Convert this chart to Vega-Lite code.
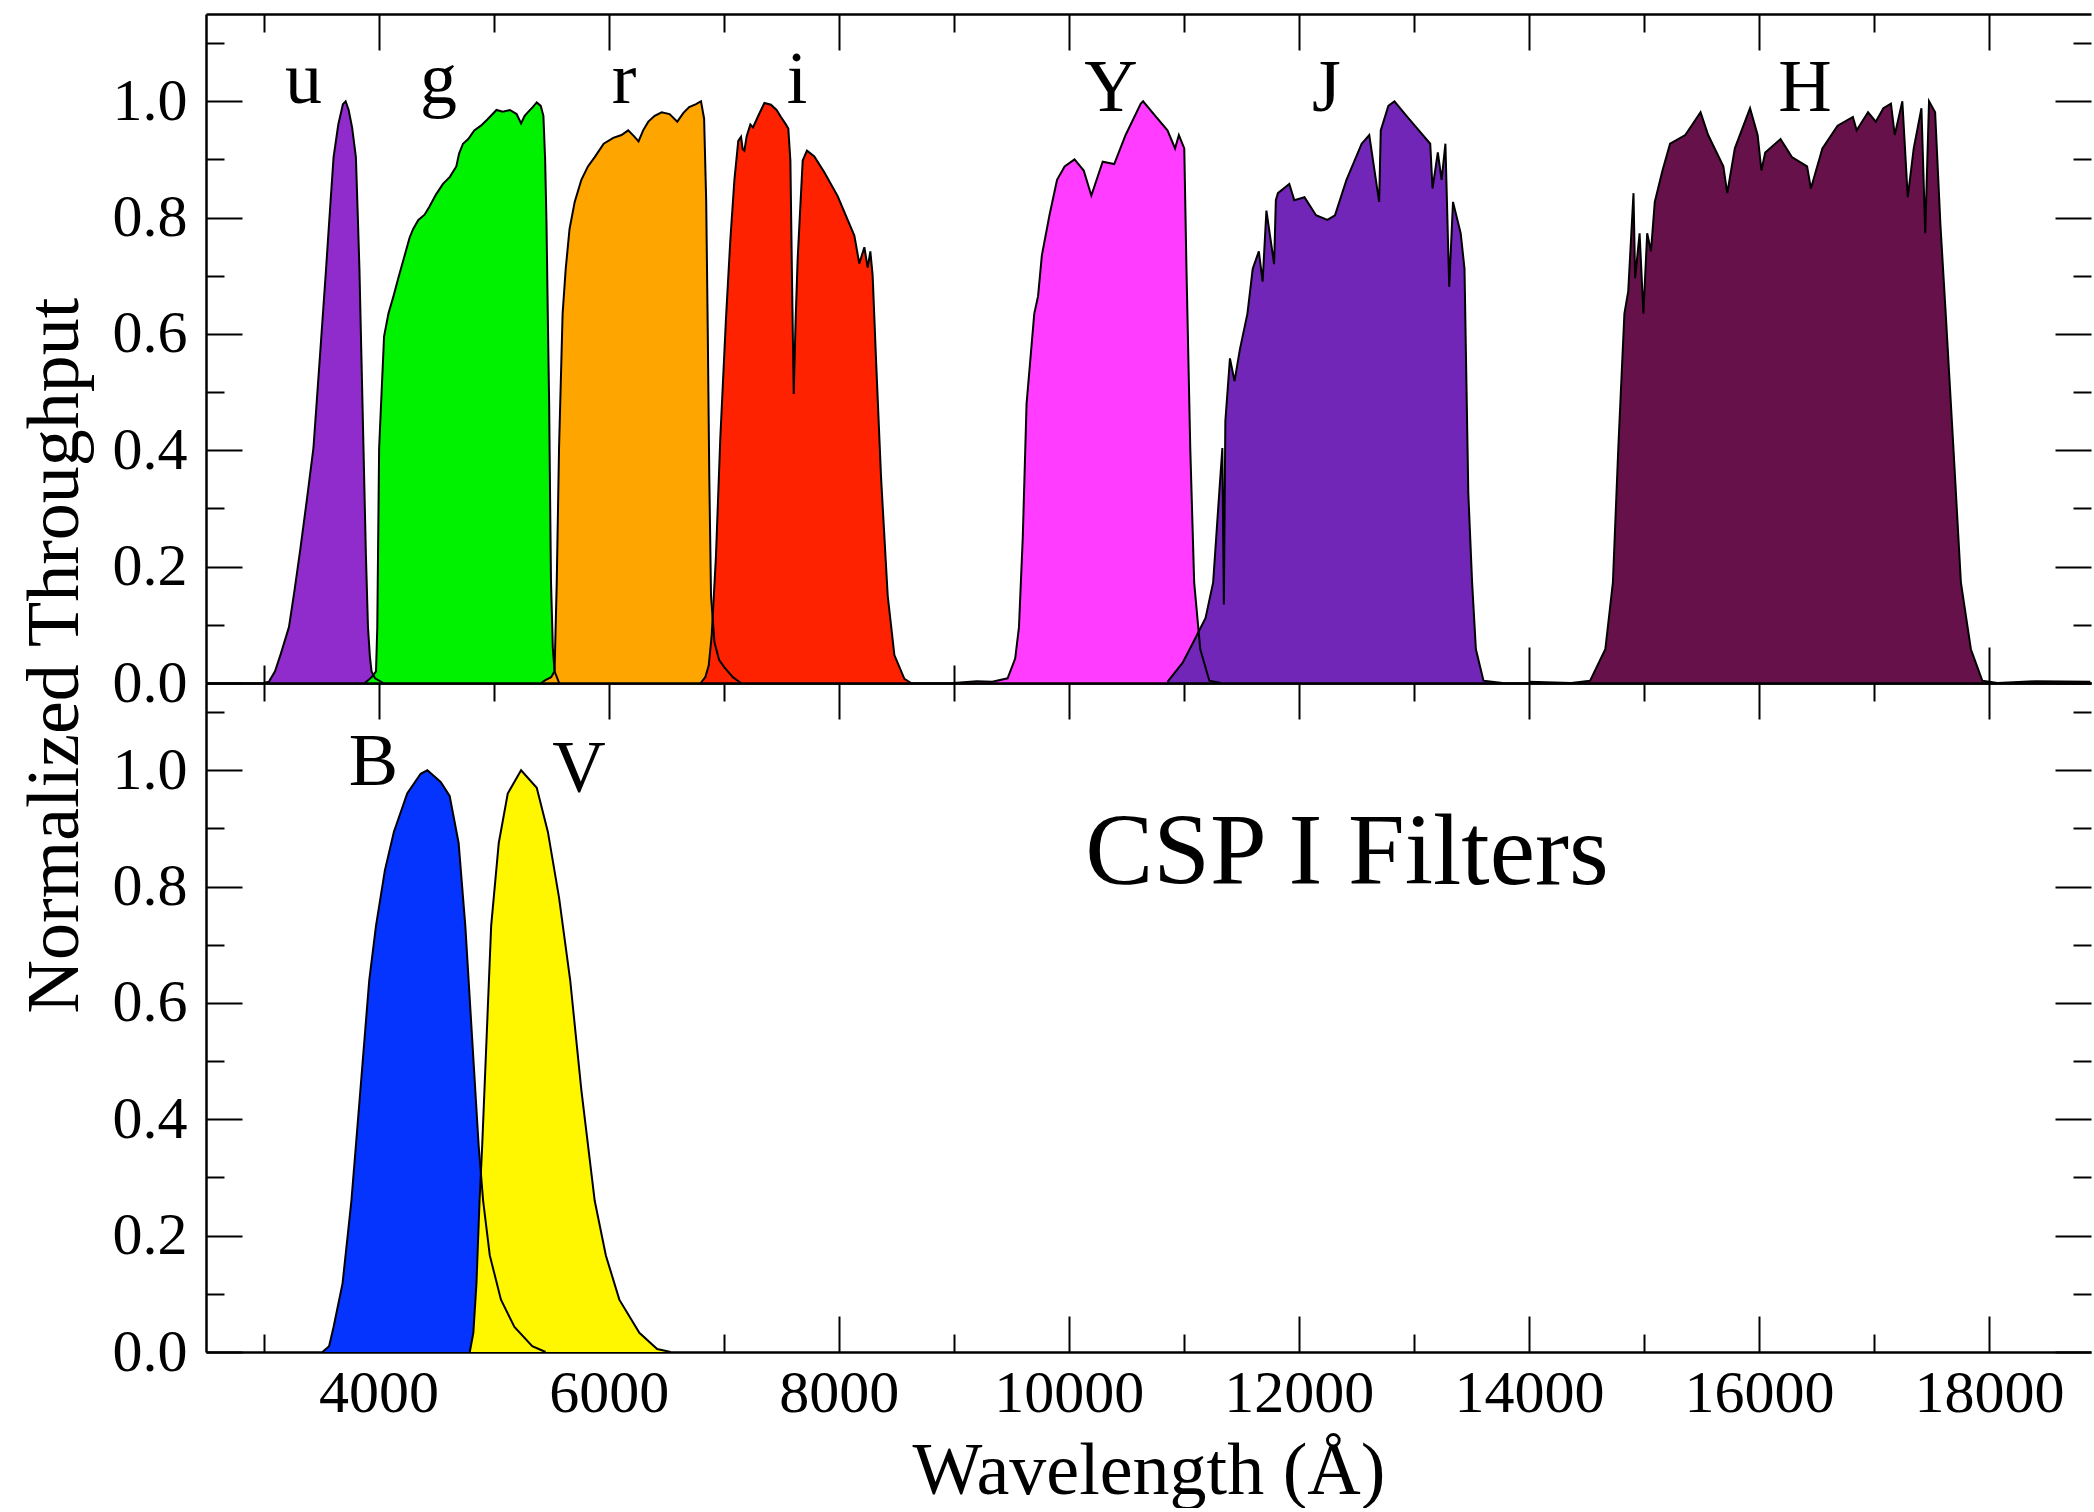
{
  "$schema": "https://vega.github.io/schema/vega-lite/v6.json",
  "autosize": {"type": "pad"},
  "padding": {"left": 18, "top": 13, "right": 0, "bottom": 0},
  "background": "white",
  "title": {"text": "Normalized Throughput", "orient": "left", "anchor": "middle", "frame": "bounds", "dx": 105, "fontSize": 74, "fontWeight": "normal", "font": "Liberation Serif", "color": "black", "offset": 18},
  "datasets": {
    "top": [
      {"f":"u","w":3000,"t":0},{"f":"u","w":3046,"t":0.002},{"f":"u","w":3100,"t":0.02},{"f":"u","w":3150,"t":0.05},{"f":"u","w":3221,"t":0.096},{"f":"u","w":3270,"t":0.16},{"f":"u","w":3320,"t":0.23},{"f":"u","w":3380,"t":0.32},{"f":"u","w":3434,"t":0.404},{"f":"u","w":3490,"t":0.56},{"f":"u","w":3543,"t":0.71},{"f":"u","w":3580,"t":0.82},{"f":"u","w":3609,"t":0.904},{"f":"u","w":3650,"t":0.96},{"f":"u","w":3690,"t":0.995},{"f":"u","w":3714,"t":1.0},{"f":"u","w":3740,"t":0.985},{"f":"u","w":3770,"t":0.955},{"f":"u","w":3803,"t":0.904},{"f":"u","w":3820,"t":0.8},{"f":"u","w":3834,"t":0.71},{"f":"u","w":3850,"t":0.57},{"f":"u","w":3869,"t":0.404},{"f":"u","w":3890,"t":0.22},{"f":"u","w":3908,"t":0.096},{"f":"u","w":3925,"t":0.045},{"f":"u","w":3939,"t":0.02},{"f":"u","w":3970,"t":0.008},{"f":"u","w":4040,"t":0},
      {"f":"g","w":3881,"t":0},{"f":"g","w":3940,"t":0.01},{"f":"g","w":3978,"t":0.02},{"f":"g","w":3989,"t":0.096},{"f":"g","w":4005,"t":0.404},{"f":"g","w":4048,"t":0.596},{"f":"g","w":4086,"t":0.635},{"f":"g","w":4130,"t":0.665},{"f":"g","w":4172,"t":0.696},{"f":"g","w":4220,"t":0.73},{"f":"g","w":4269,"t":0.765},{"f":"g","w":4300,"t":0.78},{"f":"g","w":4346,"t":0.796},{"f":"g","w":4400,"t":0.805},{"f":"g","w":4443,"t":0.819},{"f":"g","w":4500,"t":0.84},{"f":"g","w":4560,"t":0.858},{"f":"g","w":4620,"t":0.87},{"f":"g","w":4676,"t":0.888},{"f":"g","w":4700,"t":0.91},{"f":"g","w":4734,"t":0.927},{"f":"g","w":4780,"t":0.935},{"f":"g","w":4832,"t":0.95},{"f":"g","w":4890,"t":0.958},{"f":"g","w":4948,"t":0.969},{"f":"g","w":5025,"t":0.985},{"f":"g","w":5080,"t":0.982},{"f":"g","w":5142,"t":0.985},{"f":"g","w":5200,"t":0.978},{"f":"g","w":5239,"t":0.962},{"f":"g","w":5270,"t":0.975},{"f":"g","w":5297,"t":0.981},{"f":"g","w":5340,"t":0.99},{"f":"g","w":5375,"t":0.998},{"f":"g","w":5410,"t":0.992},{"f":"g","w":5433,"t":0.975},{"f":"g","w":5448,"t":0.9},{"f":"g","w":5460,"t":0.788},{"f":"g","w":5472,"t":0.62},{"f":"g","w":5483,"t":0.48},{"f":"g","w":5491,"t":0.32},{"f":"g","w":5499,"t":0.173},{"f":"g","w":5515,"t":0.06},{"f":"g","w":5530,"t":0.02},{"f":"g","w":5570,"t":0},
      {"f":"r","w":5414,"t":0},{"f":"r","w":5450,"t":0.005},{"f":"r","w":5500,"t":0.01},{"f":"r","w":5530,"t":0.02},{"f":"r","w":5549,"t":0.173},{"f":"r","w":5569,"t":0.404},{"f":"r","w":5600,"t":0.635},{"f":"r","w":5627,"t":0.712},{"f":"r","w":5660,"t":0.78},{"f":"r","w":5705,"t":0.827},{"f":"r","w":5763,"t":0.865},{"f":"r","w":5820,"t":0.888},{"f":"r","w":5879,"t":0.904},{"f":"r","w":5957,"t":0.927},{"f":"r","w":6040,"t":0.937},{"f":"r","w":6112,"t":0.942},{"f":"r","w":6170,"t":0.95},{"f":"r","w":6220,"t":0.94},{"f":"r","w":6260,"t":0.931},{"f":"r","w":6300,"t":0.95},{"f":"r","w":6345,"t":0.965},{"f":"r","w":6400,"t":0.975},{"f":"r","w":6461,"t":0.981},{"f":"r","w":6530,"t":0.978},{"f":"r","w":6597,"t":0.965},{"f":"r","w":6650,"t":0.98},{"f":"r","w":6700,"t":0.99},{"f":"r","w":6760,"t":0.995},{"f":"r","w":6803,"t":1.0},{"f":"r","w":6830,"t":0.97},{"f":"r","w":6848,"t":0.83},{"f":"r","w":6862,"t":0.6},{"f":"r","w":6875,"t":0.355},{"f":"r","w":6890,"t":0.15},{"f":"r","w":6920,"t":0.07},{"f":"r","w":6960,"t":0.04},{"f":"r","w":7006,"t":0.027},{"f":"r","w":7080,"t":0.01},{"f":"r","w":7150,"t":0},
      {"f":"i","w":6800,"t":0},{"f":"i","w":6840,"t":0.01},{"f":"i","w":6870,"t":0.03},{"f":"i","w":6896,"t":0.082},{"f":"i","w":6933,"t":0.218},{"f":"i","w":6971,"t":0.422},{"f":"i","w":7020,"t":0.626},{"f":"i","w":7058,"t":0.762},{"f":"i","w":7093,"t":0.864},{"f":"i","w":7127,"t":0.932},{"f":"i","w":7151,"t":0.939},{"f":"i","w":7165,"t":0.918},{"f":"i","w":7180,"t":0.915},{"f":"i","w":7200,"t":0.94},{"f":"i","w":7232,"t":0.96},{"f":"i","w":7255,"t":0.955},{"f":"i","w":7296,"t":0.973},{"f":"i","w":7354,"t":0.997},{"f":"i","w":7411,"t":0.994},{"f":"i","w":7460,"t":0.985},{"f":"i","w":7498,"t":0.973},{"f":"i","w":7535,"t":0.962},{"f":"i","w":7562,"t":0.953},{"f":"i","w":7580,"t":0.898},{"f":"i","w":7594,"t":0.694},{"f":"i","w":7609,"t":0.497},{"f":"i","w":7625,"t":0.62},{"f":"i","w":7643,"t":0.728},{"f":"i","w":7687,"t":0.898},{"f":"i","w":7724,"t":0.915},{"f":"i","w":7788,"t":0.905},{"f":"i","w":7875,"t":0.878},{"f":"i","w":7991,"t":0.837},{"f":"i","w":8078,"t":0.796},{"f":"i","w":8136,"t":0.769},{"f":"i","w":8179,"t":0.721},{"f":"i","w":8223,"t":0.749},{"f":"i","w":8252,"t":0.714},{"f":"i","w":8275,"t":0.742},{"f":"i","w":8295,"t":0.701},{"f":"i","w":8324,"t":0.558},{"f":"i","w":8368,"t":0.354},{"f":"i","w":8426,"t":0.15},{"f":"i","w":8484,"t":0.048},{"f":"i","w":8571,"t":0.007},{"f":"i","w":8629,"t":0},
      {"f":"Y","w":9000,"t":0},{"f":"Y","w":9200,"t":0.003},{"f":"Y","w":9335,"t":0.002},{"f":"Y","w":9468,"t":0.008},{"f":"Y","w":9534,"t":0.042},{"f":"Y","w":9567,"t":0.096},{"f":"Y","w":9600,"t":0.25},{"f":"Y","w":9633,"t":0.48},{"f":"Y","w":9700,"t":0.635},{"f":"Y","w":9733,"t":0.665},{"f":"Y","w":9766,"t":0.735},{"f":"Y","w":9832,"t":0.804},{"f":"Y","w":9898,"t":0.865},{"f":"Y","w":9964,"t":0.888},{"f":"Y","w":10050,"t":0.9},{"f":"Y","w":10130,"t":0.881},{"f":"Y","w":10196,"t":0.838},{"f":"Y","w":10295,"t":0.896},{"f":"Y","w":10395,"t":0.892},{"f":"Y","w":10494,"t":0.942},{"f":"Y","w":10626,"t":0.996},{"f":"Y","w":10646,"t":1.0},{"f":"Y","w":10759,"t":0.973},{"f":"Y","w":10858,"t":0.95},{"f":"Y","w":10924,"t":0.919},{"f":"Y","w":10957,"t":0.942},{"f":"Y","w":11004,"t":0.919},{"f":"Y","w":11023,"t":0.712},{"f":"Y","w":11056,"t":0.404},{"f":"Y","w":11090,"t":0.173},{"f":"Y","w":11143,"t":0.058},{"f":"Y","w":11222,"t":0.004},{"f":"Y","w":11321,"t":0},
      {"f":"J","w":10858,"t":0.002},{"f":"J","w":10990,"t":0.035},{"f":"J","w":11090,"t":0.073},{"f":"J","w":11189,"t":0.112},{"f":"J","w":11255,"t":0.173},{"f":"J","w":11308,"t":0.327},{"f":"J","w":11335,"t":0.404},{"f":"J","w":11348,"t":0.135},{"f":"J","w":11361,"t":0.45},{"f":"J","w":11401,"t":0.558},{"f":"J","w":11441,"t":0.519},{"f":"J","w":11487,"t":0.573},{"f":"J","w":11553,"t":0.635},{"f":"J","w":11599,"t":0.712},{"f":"J","w":11652,"t":0.742},{"f":"J","w":11685,"t":0.69},{"f":"J","w":11718,"t":0.812},{"f":"J","w":11785,"t":0.72},{"f":"J","w":11800,"t":0.83},{"f":"J","w":11818,"t":0.842},{"f":"J","w":11917,"t":0.858},{"f":"J","w":11960,"t":0.83},{"f":"J","w":12049,"t":0.835},{"f":"J","w":12149,"t":0.804},{"f":"J","w":12248,"t":0.796},{"f":"J","w":12314,"t":0.804},{"f":"J","w":12414,"t":0.865},{"f":"J","w":12546,"t":0.927},{"f":"J","w":12612,"t":0.942},{"f":"J","w":12698,"t":0.827},{"f":"J","w":12712,"t":0.95},{"f":"J","w":12778,"t":0.992},{"f":"J","w":12831,"t":1.0},{"f":"J","w":12943,"t":0.973},{"f":"J","w":13043,"t":0.95},{"f":"J","w":13142,"t":0.927},{"f":"J","w":13162,"t":0.85},{"f":"J","w":13208,"t":0.912},{"f":"J","w":13241,"t":0.865},{"f":"J","w":13274,"t":0.927},{"f":"J","w":13307,"t":0.681},{"f":"J","w":13340,"t":0.827},{"f":"J","w":13407,"t":0.773},{"f":"J","w":13440,"t":0.712},{"f":"J","w":13453,"t":0.558},{"f":"J","w":13473,"t":0.327},{"f":"J","w":13506,"t":0.173},{"f":"J","w":13539,"t":0.058},{"f":"J","w":13605,"t":0.004},{"f":"J","w":13771,"t":0},
      {"f":"H","w":14000,"t":0.002},{"f":"H","w":14367,"t":0},{"f":"H","w":14532,"t":0.004},{"f":"H","w":14664,"t":0.058},{"f":"H","w":14730,"t":0.173},{"f":"H","w":14777,"t":0.404},{"f":"H","w":14830,"t":0.635},{"f":"H","w":14863,"t":0.673},{"f":"H","w":14909,"t":0.842},{"f":"H","w":14923,"t":0.696},{"f":"H","w":14962,"t":0.773},{"f":"H","w":14995,"t":0.635},{"f":"H","w":15028,"t":0.773},{"f":"H","w":15061,"t":0.742},{"f":"H","w":15094,"t":0.827},{"f":"H","w":15161,"t":0.881},{"f":"H","w":15227,"t":0.927},{"f":"H","w":15359,"t":0.942},{"f":"H","w":15492,"t":0.981},{"f":"H","w":15558,"t":0.942},{"f":"H","w":15690,"t":0.888},{"f":"H","w":15724,"t":0.842},{"f":"H","w":15790,"t":0.919},{"f":"H","w":15922,"t":0.988},{"f":"H","w":15988,"t":0.942},{"f":"H","w":16021,"t":0.881},{"f":"H","w":16054,"t":0.912},{"f":"H","w":16187,"t":0.935},{"f":"H","w":16286,"t":0.904},{"f":"H","w":16418,"t":0.888},{"f":"H","w":16451,"t":0.85},{"f":"H","w":16551,"t":0.919},{"f":"H","w":16683,"t":0.958},{"f":"H","w":16816,"t":0.973},{"f":"H","w":16849,"t":0.95},{"f":"H","w":16948,"t":0.981},{"f":"H","w":17015,"t":0.965},{"f":"H","w":17081,"t":0.988},{"f":"H","w":17147,"t":0.996},{"f":"H","w":17180,"t":0.942},{"f":"H","w":17246,"t":1.0},{"f":"H","w":17293,"t":0.835},{"f":"H","w":17345,"t":0.919},{"f":"H","w":17412,"t":0.988},{"f":"H","w":17445,"t":0.773},{"f":"H","w":17478,"t":1.0},{"f":"H","w":17531,"t":0.981},{"f":"H","w":17577,"t":0.788},{"f":"H","w":17623,"t":0.635},{"f":"H","w":17690,"t":0.404},{"f":"H","w":17755,"t":0.173},{"f":"H","w":17842,"t":0.058},{"f":"H","w":17941,"t":0.004},{"f":"H","w":18073,"t":0},{"f":"H","w":18400,"t":0.003},{"f":"H","w":18880,"t":0.002}
    ],
    "bottom": [
      {"f":"B","w":3512,"t":0},{"f":"B","w":3570,"t":0.01},{"f":"B","w":3609,"t":0.043},{"f":"B","w":3687,"t":0.118},{"f":"B","w":3764,"t":0.26},{"f":"B","w":3842,"t":0.45},{"f":"B","w":3919,"t":0.639},{"f":"B","w":3978,"t":0.733},{"f":"B","w":4055,"t":0.828},{"f":"B","w":4133,"t":0.894},{"f":"B","w":4249,"t":0.96},{"f":"B","w":4366,"t":0.994},{"f":"B","w":4424,"t":1.0},{"f":"B","w":4540,"t":0.98},{"f":"B","w":4618,"t":0.956},{"f":"B","w":4696,"t":0.875},{"f":"B","w":4754,"t":0.733},{"f":"B","w":4812,"t":0.544},{"f":"B","w":4870,"t":0.355},{"f":"B","w":4909,"t":0.26},{"f":"B","w":4967,"t":0.166},{"f":"B","w":5064,"t":0.09},{"f":"B","w":5181,"t":0.043},{"f":"B","w":5336,"t":0.01},{"f":"B","w":5452,"t":0},
      {"f":"V","w":4793,"t":0},{"f":"V","w":4824,"t":0.033},{"f":"V","w":4851,"t":0.118},{"f":"V","w":4878,"t":0.26},{"f":"V","w":4901,"t":0.355},{"f":"V","w":4940,"t":0.544},{"f":"V","w":4979,"t":0.733},{"f":"V","w":5045,"t":0.875},{"f":"V","w":5123,"t":0.96},{"f":"V","w":5239,"t":1.0},{"f":"V","w":5375,"t":0.97},{"f":"V","w":5472,"t":0.894},{"f":"V","w":5569,"t":0.781},{"f":"V","w":5666,"t":0.639},{"f":"V","w":5763,"t":0.45},{"f":"V","w":5879,"t":0.26},{"f":"V","w":5976,"t":0.166},{"f":"V","w":6093,"t":0.09},{"f":"V","w":6267,"t":0.033},{"f":"V","w":6422,"t":0.005},{"f":"V","w":6539,"t":0}
    ],
    "labels": [
      {"label":"u","w":3348,"t":0.997,"panel":"top","kind":"band"},
      {"label":"g","w":4521,"t":0.997,"panel":"top","kind":"band"},
      {"label":"r","w":6134,"t":0.997,"panel":"top","kind":"band"},
      {"label":"i","w":7637,"t":0.997,"panel":"top","kind":"band"},
      {"label":"Y","w":10367,"t":0.983,"panel":"top","kind":"band"},
      {"label":"J","w":12240,"t":0.983,"panel":"top","kind":"band"},
      {"label":"H","w":16400,"t":0.983,"panel":"top","kind":"band"},
      {"label":"B","w":3956,"t":0.974,"panel":"bottom","kind":"band"},
      {"label":"V","w":5742,"t":0.962,"panel":"bottom","kind":"band"},
      {"label":"CSP I Filters","w":12418,"t":0.805,"panel":"bottom","kind":"caption"}
    ]
  },
  "spacing": 0,
  "bounds": "flush",
  "vconcat": [
    {
      "width": 1885,
      "height": 669,
      "resolve": {"axis": {"x": "independent", "y": "independent"}},
      "layer": [
        {
          "data": {"name": "top"},
          "mark": {"type": "area", "opacity": 1},
          "encoding": {
            "x": {"field": "w", "type": "quantitative", "scale": {"domain": [2500, 18886], "nice": false, "zero": false},
              "axis": {"orient": "bottom", "values": [3000,4000,5000,6000,7000,8000,9000,10000,11000,12000,13000,14000,15000,16000,17000,18000], "tickSize": {"condition": {"test": "datum.value % 2000 === 0", "value": -36}, "value": -18}, "labels": false, "title": null}},
            "y": {"field": "t", "type": "quantitative", "stack": null, "scale": {"domain": [0, 1.15], "nice": false, "zero": false},
              "axis": {"orient": "left", "values": [0,0.1,0.2,0.3,0.4,0.5,0.6,0.7,0.8,0.9,1.0,1.1], "tickSize": {"condition": {"test": "round(datum.value*10) % 2 === 0", "value": -36}, "value": -18}, "labelExpr": "round(datum.value*10) % 2 === 0 ? format(datum.value, '.1f') : ''", "labelPadding": 55, "title": null}},
            "color": {"field": "f", "type": "nominal", "scale": {"domain": ["u","g","r","i","Y","J","H","B","V"], "range": ["#902ccc","#00f200","#ffa500","#ff2200","#ff3cff","#7226b8","#661149","#0534ff","#fff700"]}, "legend": null}
          }
        },
        {
          "data": {"name": "top"},
          "mark": {"type": "line", "color": "black", "strokeWidth": 2},
          "encoding": {
            "x": {"field": "w", "type": "quantitative",
              "axis": {"orient": "top", "values": [3000,4000,5000,6000,7000,8000,9000,10000,11000,12000,13000,14000,15000,16000,17000,18000], "tickSize": {"condition": {"test": "datum.value % 2000 === 0", "value": -36}, "value": -18}, "labels": false, "title": null}},
            "y": {"field": "t", "type": "quantitative",
              "axis": {"orient": "right", "values": [0,0.1,0.2,0.3,0.4,0.5,0.6,0.7,0.8,0.9,1.0,1.1], "tickSize": {"condition": {"test": "round(datum.value*10) % 2 === 0", "value": -36}, "value": -18}, "labels": false, "domain": false, "title": null}},
            "detail": {"field": "f", "type": "nominal"}
          }
        },
        {
          "data": {"name": "labels"},
          "transform": [{"filter": "datum.panel === 'top'"}],
          "mark": {"type": "text", "fontSize": 74, "font": "Liberation Serif", "baseline": "alphabetic", "align": "center", "color": "black"},
          "encoding": {
            "x": {"field": "w", "type": "quantitative", "axis": null},
            "y": {"field": "t", "type": "quantitative", "axis": null},
            "text": {"field": "label", "type": "nominal"}
          }
        }
      ]
    },
    {
      "width": 1885,
      "height": 669,
      "resolve": {"axis": {"x": "independent", "y": "independent"}},
      "layer": [
        {
          "data": {"name": "bottom"},
          "mark": {"type": "area", "opacity": 1},
          "encoding": {
            "x": {"field": "w", "type": "quantitative", "scale": {"domain": [2500, 18886], "nice": false, "zero": false},
              "axis": {"orient": "bottom", "values": [3000,4000,5000,6000,7000,8000,9000,10000,11000,12000,13000,14000,15000,16000,17000,18000], "tickSize": {"condition": {"test": "datum.value % 2000 === 0", "value": -36}, "value": -18}, "labelExpr": "datum.value % 2000 === 0 ? format(datum.value, 'd') : ''", "labelPadding": 48, "title": "Wavelength (Å)", "titlePadding": -6}},
            "y": {"field": "t", "type": "quantitative", "stack": null, "scale": {"domain": [0, 1.15], "nice": false, "zero": false},
              "axis": {"orient": "left", "values": [0,0.1,0.2,0.3,0.4,0.5,0.6,0.7,0.8,0.9,1.0,1.1], "tickSize": {"condition": {"test": "round(datum.value*10) % 2 === 0", "value": -36}, "value": -18}, "labelExpr": "round(datum.value*10) % 2 === 0 ? format(datum.value, '.1f') : ''", "labelPadding": 55, "title": null}},
            "color": {"field": "f", "type": "nominal", "scale": {"domain": ["u","g","r","i","Y","J","H","B","V"], "range": ["#902ccc","#00f200","#ffa500","#ff2200","#ff3cff","#7226b8","#661149","#0534ff","#fff700"]}, "legend": null}
          }
        },
        {
          "data": {"name": "bottom"},
          "mark": {"type": "line", "color": "black", "strokeWidth": 2},
          "encoding": {
            "x": {"field": "w", "type": "quantitative",
              "axis": {"orient": "top", "values": [3000,4000,5000,6000,7000,8000,9000,10000,11000,12000,13000,14000,15000,16000,17000,18000], "tickSize": {"condition": {"test": "datum.value % 2000 === 0", "value": -36}, "value": -18}, "labels": false, "title": null}},
            "y": {"field": "t", "type": "quantitative",
              "axis": {"orient": "right", "values": [0,0.1,0.2,0.3,0.4,0.5,0.6,0.7,0.8,0.9,1.0,1.1], "tickSize": {"condition": {"test": "round(datum.value*10) % 2 === 0", "value": -36}, "value": -18}, "labels": false, "domain": false, "title": null}},
            "detail": {"field": "f", "type": "nominal"}
          }
        },
        {
          "data": {"name": "labels"},
          "transform": [{"filter": "datum.panel === 'bottom' && datum.kind === 'band'"}],
          "mark": {"type": "text", "fontSize": 74, "font": "Liberation Serif", "baseline": "alphabetic", "align": "center", "color": "black"},
          "encoding": {
            "x": {"field": "w", "type": "quantitative", "axis": null},
            "y": {"field": "t", "type": "quantitative", "axis": null},
            "text": {"field": "label", "type": "nominal"}
          }
        },
        {
          "data": {"name": "labels"},
          "transform": [{"filter": "datum.kind === 'caption'"}],
          "mark": {"type": "text", "fontSize": 102, "font": "Liberation Serif", "baseline": "alphabetic", "align": "center", "color": "black"},
          "encoding": {
            "x": {"field": "w", "type": "quantitative", "axis": null},
            "y": {"field": "t", "type": "quantitative", "axis": null},
            "text": {"field": "label", "type": "nominal"}
          }
        }
      ]
    }
  ],
  "config": {
    "view": {"stroke": null},
    "font": "Liberation Serif",
    "axis": {"domainColor": "black", "domainWidth": 2.5, "tickColor": "black", "tickWidth": 2, "labelColor": "black", "labelFont": "Liberation Serif", "labelFontSize": 60, "titleFont": "Liberation Serif", "titleFontSize": 74, "titleFontWeight": "normal", "titleColor": "black", "grid": false, "labelOverlap": false, "labelFlush": false, "labelBound": false}
  }
}
